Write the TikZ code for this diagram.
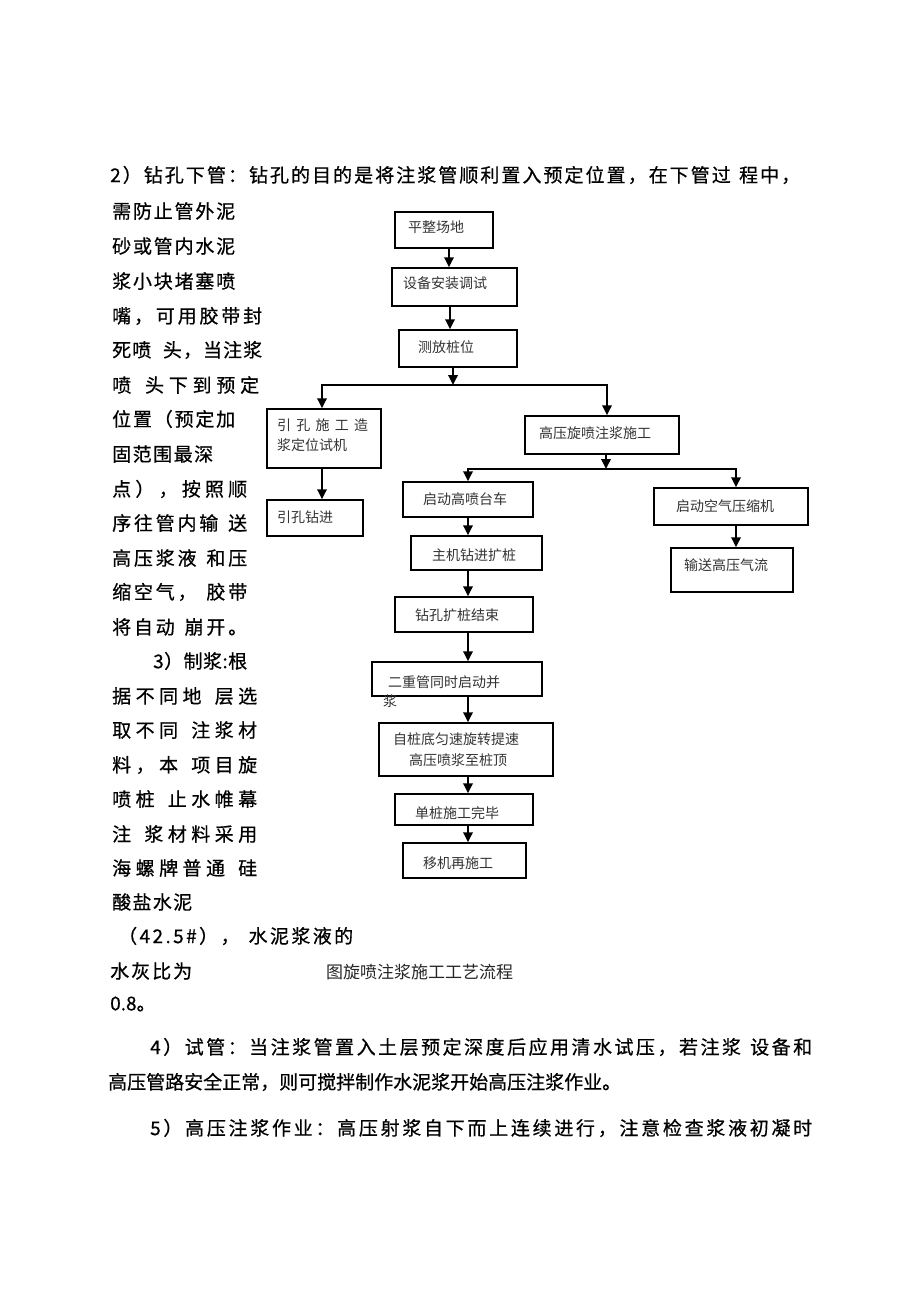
\documentclass[tikz,border=0pt]{standalone}
\usepackage{fontspec}
\setmainfont{Noto Sans CJK SC}
\newfontfamily\bodyf{Noto Sans CJK SC}[FakeBold=0.6]
\usetikzlibrary{arrows.meta}
\ExplSyntaxOn
\NewDocumentCommand\spr{mm}{\hbox_to_wd:nn{#1}{\tl_map_inline:nn{#2}{##1\hfil}\unskip}}
\ExplSyntaxOff
\begin{document}
\begin{tikzpicture}[x=1pt,y=-1pt,
  box/.style={draw=black, line width=1.5pt, inner sep=0pt},
  ft/.style={font=\fontsize{14}{16}\selectfont, text=black!80, inner sep=0pt, anchor=west},
  bt/.style={font=\bodyf\fontsize{19}{22}\selectfont, inner sep=0pt, anchor=west},
  captext/.style={font=\fontsize{17}{20}\selectfont, text=black!85, inner sep=0pt, anchor=west},
  arr/.style={line width=1.8pt, -{Triangle[width=9.5pt,length=10pt]}},
  ln/.style={line width=1.8pt}]
\fill[white] (0,0) rectangle (920,1304);
\useasboundingbox (0,0) rectangle (920,1304);

% ---- body text ----
\node[bt] (t0) at (110,175) {\spr{690pt}{2）钻孔下管：钻孔的目的是将注浆管顺利置入预定位置，在下管过~程中，}};
\node[bt] (l0) at (112,211) {\spr{123pt}{需防止管外泥}};
\node[bt] (l1) at (112,246) {\spr{123pt}{砂或管内水泥}};
\node[bt] (l2) at (112,281) {\spr{123pt}{浆小块堵塞喷}};
\node[bt] (l3) at (112,316) {\spr{150pt}{嘴，可用胶带封}};
\node[bt] (l4) at (112,350) {\spr{150pt}{死喷~~头，当注浆}};
\node[bt] (l5) at (112,385) {\spr{147pt}{喷~头下到预定}};
\node[bt] (l6) at (112,419) {\spr{123pt}{位置（预定加}};
\node[bt] (l7) at (112,454) {\spr{101pt}{固范围最深}};
\node[bt] (l8) at (112,489) {\spr{135pt}{点），按照顺}};
\node[bt] (l9) at (112,523) {\spr{135pt}{序往管内输~送}};
\node[bt] (l10) at (112,558) {\spr{135pt}{高压浆液~和压}};
\node[bt] (l11) at (112,592) {\spr{135pt}{缩空气，~胶带}};
\node[bt] (l12) at (112,627) {\spr{135pt}{将自动~崩开。}};
\node[bt] (l13) at (153,661) {\spr{94pt}{3）制浆:根}};
\node[bt] (l14) at (112,696) {\spr{145pt}{据不同地~层选}};
\node[bt] (l15) at (112,730) {\spr{145pt}{取不同~注浆材}};
\node[bt] (l16) at (112,765) {\spr{145pt}{料，本~项目旋}};
\node[bt] (l17) at (112,799) {\spr{145pt}{喷桩~止水帷幕}};
\node[bt] (l18) at (112,834) {\spr{145pt}{注~浆材料采用}};
\node[bt] (l19) at (112,868) {\spr{145pt}{海螺牌普通~硅}};
\node[bt] (l20) at (112,902) {\spr{80pt}{酸盐水泥}};
\node[bt] (l21) at (118,936) {\spr{235pt}{（42.5\#），~水泥浆液的}};
\node[bt] (l22) at (110,971) {\spr{82pt}{水灰比为}};
\node[bt] (l23) at (110,1004) {0.8。};
\node[bt] (p4a) at (150,1047) {\spr{662pt}{4）试管：当注浆管置入土层预定深度后应用清水试压，若注浆~设备和}};
\node[bt] (p4b) at (108,1082) {高压管路安全正常，则可搅拌制作水泥浆开始高压注浆作业。};
\node[bt] (p5) at (150,1128) {\spr{662pt}{5）高压注浆作业：高压射浆自下而上连续进行，注意检查浆液初凝时}};
\node[captext] (capt) at (326,972) {图旋喷注浆施工工艺流程};

% ---- flowchart boxes ----
\node[box, minimum width=98pt, minimum height=36pt] (b1) at (444,230) {};
\node[box, minimum width=125pt, minimum height=38pt] (b2) at (454.5,287) {};
\node[box, minimum width=118pt, minimum height=37pt] (b3) at (458,348.5) {};
\node[box, minimum width=114pt, minimum height=59pt] (b4) at (324,438.5) {};
\node[box, minimum width=96pt, minimum height=36pt] (b5) at (315,518) {};
\node[box, minimum width=154pt, minimum height=38pt] (b6) at (602,435) {};
\node[box, minimum width=154pt, minimum height=37pt] (b7) at (731,506.5) {};
\node[box, minimum width=122pt, minimum height=44pt] (b8) at (732,570) {};
\node[box, minimum width=130pt, minimum height=35pt] (b9) at (468,499.5) {};
\node[box, minimum width=131pt, minimum height=34pt] (b10) at (476.5,553) {};
\node[box, minimum width=138pt, minimum height=35pt] (b11) at (464,614.5) {};
\node[box, minimum width=170pt, minimum height=34pt] (b12) at (457,679) {};
\node[box, minimum width=174pt, minimum height=53pt] (b13) at (466,749.5) {};
\node[box, minimum width=138pt, minimum height=31pt] (b14) at (464,809.5) {};
\node[box, minimum width=123pt, minimum height=35pt] (b15) at (464.5,860.5) {};

% ---- flowchart texts ----
\node[ft] (x1) at (408,227) {平整场地};
\node[ft] (x2) at (403,283) {设备安装调试};
\node[ft] (x3) at (418,347) {测放桩位};
\node[ft] (x4a) at (277,425) {\spr{91pt}{引孔施工造}};
\node[ft] (x4b) at (277,445) {浆定位试机};
\node[ft] (x5) at (277,517) {引孔钻进};
\node[ft] (x6) at (539,433) {高压旋喷注浆施工};
\node[ft] (x7) at (676,506) {启动空气压缩机};
\node[ft] (x8) at (684,565) {输送高压气流};
\node[ft] (x9) at (423,499) {启动高喷台车};
\node[ft] (x10) at (432,555) {主机钻进扩桩};
\node[ft] (x11) at (415,615) {钻孔扩桩结束};
\node[ft] (x12a) at (388,682) {二重管同时启动并};
\node[ft] (x12b) at (383,701) {浆};
\node[ft] (x13a) at (393,739) {自桩底匀速旋转提速};
\node[ft] (x13b) at (409,760) {高压喷浆至桩顶};
\node[ft] (x14) at (415,813) {单桩施工完毕};
\node[ft] (x15) at (423,863) {移机再施工};

% ---- connectors ----
\coordinate (c1) at (449,0);
\coordinate (c2) at (450,0);
\coordinate (j1) at (453,385);
\coordinate (j1L) at (322,385);
\coordinate (j1R) at (607,385);
\coordinate (j2) at (606,469);
\coordinate (j2L) at (468,469);
\coordinate (j2R) at (736,469);

\draw[arr] (b1.south -| c1) -- (b2.north -| c1);
\draw[arr] (b2.south -| c2) -- (b3.north -| c2);
\draw[arr] (b3.south -| j1) -- (j1);
\draw[arr] (j1) -- (j1L) -- (b4.north -| j1L);
\draw[arr] (j1) -- (j1R) -- (b6.north -| j1R);
\draw[arr] (b4.south -| j1L) -- (b5.north -| j1L);
\draw[arr] (b6.south -| j2) -- (j2);
\draw[arr] (j2) -- (j2L) -- (b9.north -| j2L);
\draw[arr] (j2) -- (j2R) -- (b7.north -| j2R);
\draw[arr] (b7.south -| j2R) -- (b8.north -| j2R);
\foreach \a/\b in {b9/b10,b10/b11,b11/b12,b12/b13,b13/b14,b14/b15}
  \draw[arr] (\a.south -| j2L) -- (\b.north -| j2L);
\end{tikzpicture}
\end{document}
